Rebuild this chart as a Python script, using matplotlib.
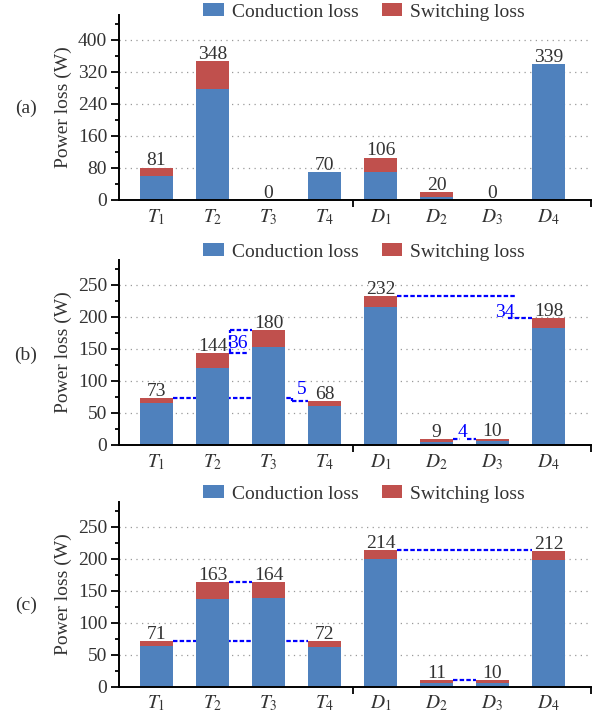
import numpy as np
import matplotlib
matplotlib.use("Agg")
import matplotlib.pyplot as plt
from matplotlib.ticker import MultipleLocator

plt.rcParams["font.family"] = ["Liberation Serif", "DejaVu Serif"]
plt.rcParams["mathtext.fontset"] = "stix"
plt.rcParams["font.size"] = 14

devices = [r"$T_1$", r"$T_2$", r"$T_3$", r"$T_4$", r"$D_1$", r"$D_2$", r"$D_3$", r"$D_4$"]

# conduction / switching loss per device (W), one pair per operating case
cond_a = [60, 278, 0, 70, 70, 8, 0, 339]
sw_a = [21, 70, 0, 0, 36, 12, 0, 0]

cond_b = [66, 121, 153, 61, 215, 5, 6, 183]
sw_b = [7, 23, 27, 7, 17, 4, 4, 15]

cond_c = [64, 137, 139, 62, 199, 6, 6, 198]
sw_c = [7, 26, 25, 10, 15, 5, 4, 14]

blue = "#4F81BD"
red = "#C0504D"
text_color = "#333333"
link_color = "#0000FF"

x = np.arange(len(devices))
bar_w = 0.59
half = bar_w / 2
x_left, x_right = -0.67, 7.76


def link(ax, x0, x1, y0, y1=None):
    # blue dashed guide line between bars
    if y1 is None:
        y1 = y0
    ax.plot([x0, x1], [y0, y1], color=link_color, lw=1.6,
            dashes=(2, 1), zorder=1.5, solid_capstyle="butt")


def draw_panel(ax, cond, sw, ymax, major, legend_y, tag, tag_y):
    cond = np.array(cond)
    sw = np.array(sw)
    total = cond + sw
    ax.bar(x, cond, bar_w, color=blue, label="Conduction loss", zorder=2)
    ax.bar(x, sw, bar_w, bottom=cond, color=red, label="Switching loss", zorder=2)
    for xi, t in zip(x, total):
        ax.annotate(str(t), (xi, t), xytext=(0, 1.5), textcoords="offset points",
                    ha="center", va="baseline", color=text_color, fontsize=14)

    ax.set_xlim(x_left, x_right)
    ax.set_ylim(0, ymax)
    ax.set_xticks(x)
    ax.set_xticklabels(devices)
    ax.set_xticks([3.5, x_right], minor=True)
    ax.tick_params(axis="x", which="major", length=0, pad=5, labelcolor=text_color, labelsize=14)
    ax.tick_params(axis="x", which="minor", length=5, width=1.3, direction="out")

    ax.yaxis.set_major_locator(MultipleLocator(major))
    ax.yaxis.set_minor_locator(MultipleLocator(major / 2))
    ax.tick_params(axis="y", which="major", length=5.5, width=1.3, pad=3,
                   labelcolor=text_color, labelsize=14)
    ax.tick_params(axis="y", which="minor", length=3, width=1.3)
    ax.set_ylabel("Power loss (W)", color=text_color, fontsize=14, labelpad=4)

    ax.set_axisbelow(True)
    ax.yaxis.grid(True, color="#9a9a9a", lw=0.9, dashes=(1, 3.5))
    for side in ("top", "right"):
        ax.spines[side].set_visible(False)
    for side in ("left", "bottom"):
        ax.spines[side].set_linewidth(1.4)

    ax.legend(loc="center", bbox_to_anchor=(0.519, legend_y), ncol=2, frameon=False,
              handlelength=1.07, handleheight=0.63, handletextpad=0.4,
              columnspacing=1.2, fontsize=14, labelcolor=text_color,
              borderaxespad=0, borderpad=0)
    fig.text(26 / 599, tag_y, tag, ha="center", va="center", color=text_color, fontsize=14)
    return total


fig = plt.figure(figsize=(5.99, 7.14), dpi=100)
ax_a = fig.add_axes([0.1987, 0.7199, 0.788, 0.2591])
ax_b = fig.add_axes([0.1987, 0.3768, 0.788, 0.2591])
ax_c = fig.add_axes([0.1987, 0.0382, 0.788, 0.2583])

tot_a = draw_panel(ax_a, cond_a, sw_a, 462, 80, 1.016, "(a)", 1 - 108 / 714)
tot_b = draw_panel(ax_b, cond_b, sw_b, 289, 50, 1.043, "(b)", 1 - 355 / 714)
tot_c = draw_panel(ax_c, cond_c, sw_c, 288, 50, 1.045, "(c)", 1 - 605 / 714)

# (b): differences between paired devices
link(ax_b, 0 + half, 2.42, tot_b[0])
link(ax_b, 2.42, 2.42, tot_b[0], tot_b[3])
link(ax_b, 2.42, 3 - half, tot_b[3])
ax_b.text(2.6, 86, "5", color=link_color, ha="center", va="center", fontsize=14)

link(ax_b, 1 + half, 1.61, tot_b[1])
link(ax_b, 1.32, 1.32, tot_b[1], tot_b[2])
link(ax_b, 1.32, 2 - half, tot_b[2])
ax_b.text(1.46, 158, "36", color=link_color, ha="center", va="center", fontsize=14)

link(ax_b, 4 + half, 6.40, tot_b[4])
link(ax_b, 6.28, 7 - half, tot_b[7])
ax_b.text(6.22, 207, "34", color=link_color, ha="center", va="center", fontsize=14)

link(ax_b, 5 + half, 5.42, tot_b[5])
link(ax_b, 5.55, 6 - half, tot_b[6])
ax_b.text(5.47, 19, "4", color=link_color, ha="center", va="center", fontsize=14)

# (c): balanced pairs
link(ax_c, 0 + half, 3 - half, tot_c[0])
link(ax_c, 1 + half, 2 - half, tot_c[1])
link(ax_c, 4 + half, 7 - half, tot_c[4])
link(ax_c, 5 + half, 6 - half, tot_c[5])

fig.savefig("out.png", dpi=100)
